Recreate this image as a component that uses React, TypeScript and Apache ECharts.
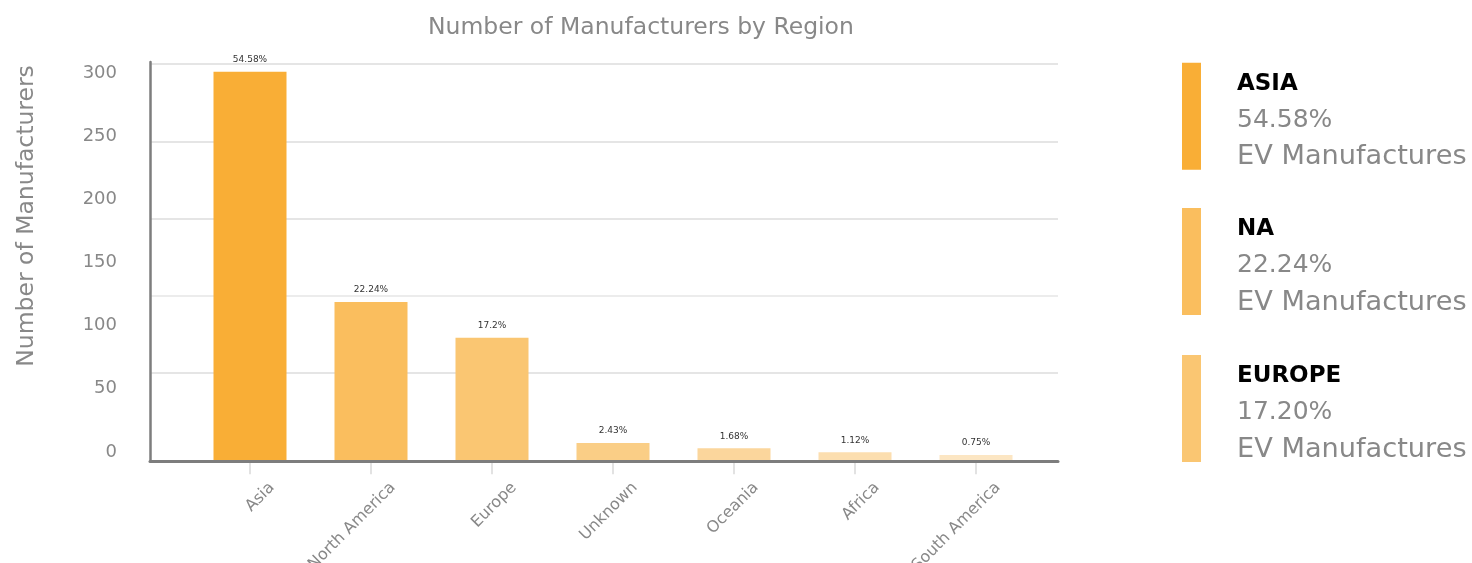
import React, { useEffect, useRef } from "react";
import * as echarts from "echarts";

const categories = ["Asia", "North America", "Europe", "Unknown", "Oceania", "Africa", "South America"];
const counts = [292, 119, 92, 13, 9, 6, 4];
const percentLabels = ["54.58%", "22.24%", "17.2%", "2.43%", "1.68%", "1.12%", "0.75%"];
const barColors = ["#F9AE36", "#FABE5E", "#FAC672", "#FACE86", "#FBD69C", "#FCDEAF", "#FCE6C3"];
const yTickMin = 0;
const yTickMax = 300;
const yTickInterval = 50;
const legendNames = ["ASIA", "NA", "EUROPE"];
const legendPercents = ["54.58%", "22.24%", "17.20%"];
const legendSub = "EV Manufactures";
const titleText = "Number of Manufacturers by Region";
const yAxisTitle = "Number of Manufacturers";

const FONT = "DejaVu Sans";
const GREY = "#888888";

export default function App() {
  const ref = useRef<HTMLDivElement>(null);
  useEffect(() => {
    if (!ref.current) return;
    const chart = echarts.init(ref.current, null, { renderer: "svg" });
    const W = 1472, H = 563;
    const barGrid = { left: 189.5, width: 847, top: 61, bottom: H - 460.3, outerBoundsMode: "none" };
    const legendTops = [62.7, 208, 355];
    const legendGraphics: any[] = [];
    legendNames.forEach((name, i) => {
      const t = legendTops[i];
      legendGraphics.push({ type: "rect", shape: { x: 1182, y: t, width: 19, height: 107 }, style: { fill: barColors[i] } });
      legendGraphics.push({ type: "text", x: 1237, y: t + 19, style: { text: name, fontSize: 23, fontWeight: "bold", fill: "#000", fontFamily: FONT, verticalAlign: "middle" } });
      legendGraphics.push({ type: "text", x: 1237, y: t + 55.5, style: { text: legendPercents[i], fontSize: 25, fill: GREY, fontFamily: FONT, verticalAlign: "middle" } });
      legendGraphics.push({ type: "text", x: 1237, y: t + 92, style: { text: legendSub, fontSize: 27.2, fill: GREY, fontFamily: FONT, verticalAlign: "middle" } });
    });
    chart.setOption({
      animation: false,
      textStyle: { fontFamily: FONT },
      title: {
        text: titleText,
        left: 428,
        top: 14,
        padding: 0,
        textStyle: { fontSize: 23.5, fontWeight: "normal", color: GREY, fontFamily: FONT },
      },
      grid: [
        barGrid,
        { left: 150, right: W - 1058, top: 64, bottom: H - 450.5, outerBoundsMode: "none" },
        { left: 150, right: W - 1058, top: 62, bottom: H - 461, outerBoundsMode: "none" },
        { left: 150, right: W - 1058, top: 71.7, bottom: H - 450, outerBoundsMode: "none" },
        { left: barGrid.left + 21, width: 847, top: 61, bottom: H - 460.3, outerBoundsMode: "none" },
      ],
      xAxis: [
        {
          gridIndex: 0, type: "category", data: categories, offset: 4,
          axisLine: { show: false },
          axisTick: { show: true, alignWithLabel: true, length: 14, lineStyle: { color: "#e2e2e2", width: 2 } },
          axisLabel: { show: false },
        },
        { gridIndex: 1, type: "value", min: 0, max: 1, show: false },
        {
          gridIndex: 2, type: "value", min: 0, max: 1, z: 5,
          axisLine: { show: true, lineStyle: { color: "#7d7d7d", width: 3 } },
          axisTick: { show: false }, axisLabel: { show: false }, splitLine: { show: false },
        },
        { gridIndex: 3, type: "value", min: 0, max: 1, show: false },
        {
          gridIndex: 4, type: "category", data: categories,
          axisLine: { show: false }, axisTick: { show: false },
          axisLabel: { show: true, rotate: 45, margin: 24, fontSize: 16, color: GREY, fontFamily: FONT, interval: 0 },
        },
      ],
      yAxis: [
        { gridIndex: 0, type: "value", min: yTickMin, max: yTickMax, show: false },
        {
          gridIndex: 1, type: "value", min: 0, max: 5, interval: 1,
          axisLine: { show: false }, axisTick: { show: false }, axisLabel: { show: false },
          splitLine: { show: true, showMinLine: false, lineStyle: { color: ["#e5e5e5", "#ececec", "#e5e5e5", "#e5e5e5", "#e5e5e5", "#e5e5e5"], width: 2 } },
        },
        {
          gridIndex: 2, type: "value", min: 0, max: 1, z: 5,
          axisLine: { show: true, lineStyle: { color: "#7d7d7d", width: 2.5 } },
          axisTick: { show: false }, axisLabel: { show: false }, splitLine: { show: false },
        },
        {
          gridIndex: 3, type: "value", min: yTickMin, max: yTickMax, interval: yTickInterval,
          axisLine: { show: false }, axisTick: { show: false }, splitLine: { show: false },
          axisLabel: { show: true, margin: 33, fontSize: 18, color: GREY, fontFamily: FONT },
        },
        { gridIndex: 4, type: "value", min: 0, max: 1, show: false },
      ],
      series: [
        {
          type: "bar",
          xAxisIndex: 0,
          yAxisIndex: 0,
          barWidth: 73,
          z: 3,
          data: counts.map((v, i) => ({ value: v, itemStyle: { color: barColors[i] } })),
          label: {
            show: true,
            position: "top",
            distance: 8,
            fontSize: 9,
            color: "#333",
            fontFamily: FONT,
            formatter: (p: any) => percentLabels[p.dataIndex],
          },
        },
      ],
      graphic: [
        {
          type: "text", x: 25, y: 216, rotation: Math.PI / 2,
          style: { text: yAxisTitle, fontSize: 23.5, fill: GREY, fontFamily: FONT, align: "center", verticalAlign: "middle" },
        },
        ...legendGraphics,
      ],
    });
    return () => chart.dispose();
  }, []);
  return <div ref={ref} style={{ position: "fixed", left: 0, top: 0, width: 1472, height: 563 }} />;
}
